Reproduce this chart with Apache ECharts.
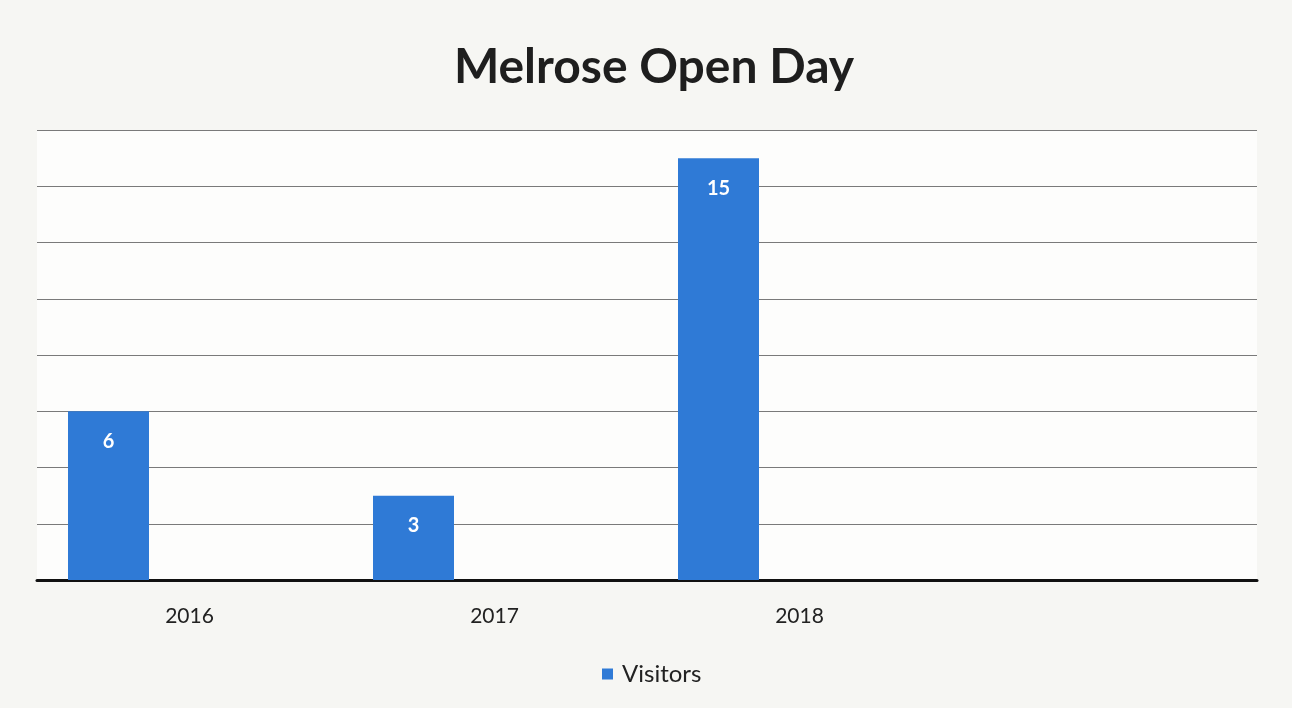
<!DOCTYPE html>
<html>
<head>
<meta charset="utf-8">
<script src="https://cdn.jsdelivr.net/npm/echarts@6/dist/echarts.min.js"></script>
<style>
html,body{margin:0;padding:0;background:#f5f5f2;}
#chart{width:1292px;height:708px;}
</style>
</head>
<body>
<div id="chart"></div>
<script>
const categories = ['2016', '2017', '2018', ''];
const visitors = [6, 3, 15, null];
const emptyA = [null, null, null, null];
const emptyB = [null, null, null, null];
const yMin = 0, yMax = 16, yInterval = 2;

const chart = echarts.init(document.getElementById('chart'));
chart.setOption({
  backgroundColor: '#f6f6f3',
  animation: false,
  title: {
    text: 'Melrose Open Day',
    left: 649,
    textAlign: 'center',
    top: 39,
    textStyle: { fontFamily: 'Lato', fontWeight: 'bold', fontSize: 48, color: '#1e1e1e' }
  },
  legend: {
    data: ['Visitors'],
    bottom: 17,
    left: 597,
    itemWidth: 11,
    itemHeight: 11,
    icon: 'rect',
    itemGap: 8,
    textStyle: { fontFamily: 'Lato', fontSize: 24, color: '#222', padding: [0, 0, 0, 4] }
  },
  grid: { left: 37, right: 35, top: 130, bottom: 128, show: true, backgroundColor: '#fdfdfc', borderWidth: 0 },
  xAxis: {
    type: 'category',
    data: categories,
    axisLine: { lineStyle: { color: '#111', width: 3 } },
    axisTick: { show: false },
    axisLabel: { fontFamily: 'Lato', fontSize: 21, color: '#222', margin: 26 }
  },
  yAxis: {
    type: 'value',
    min: yMin, max: yMax, interval: yInterval,
    axisLabel: { show: false },
    axisLine: { show: false },
    axisTick: { show: false },
    splitLine: { lineStyle: { color: '#7a7a7a', width: 1 } }
  },
  series: [
    {
      name: 'Visitors', type: 'bar', data: visitors, barWidth: 81, barGap: '0%',
      itemStyle: { color: '#2f7ad6' },
      label: { show: true, position: 'insideTop', distance: 20, color: '#fff', fontFamily: 'Lato', fontWeight: 'bold', fontSize: 20 }
    },
    { name: 'empty1', type: 'bar', data: emptyA, barWidth: 81, barGap: '0%' },
    { name: 'empty2', type: 'bar', data: emptyB, barWidth: 81, barGap: '0%' }
  ]
});
</script>
</body>
</html>
